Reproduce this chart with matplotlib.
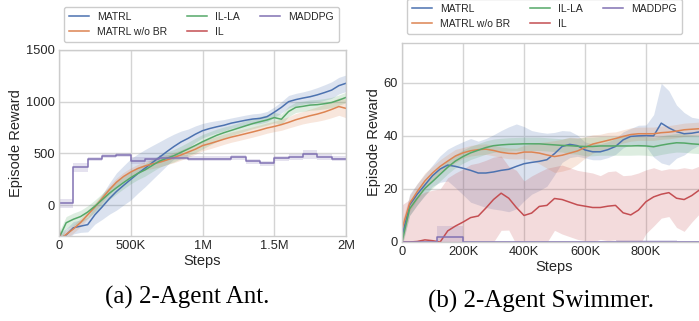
import matplotlib.pyplot as plt

plt.rcParams["font.family"] = ["Liberation Sans", "DejaVu Sans"]

# ---------------- 2-Agent Ant (steps in thousands) ----------------
ant_steps = [0, 50, 100, 150, 200, 250, 300, 350, 400, 450, 500, 550, 600, 650,
             700, 750, 800, 850, 900, 950, 1000, 1050, 1100, 1150, 1200, 1250,
             1300, 1350, 1400, 1450, 1500, 1550, 1600, 1650, 1700, 1750, 1800,
             1850, 1900, 1950, 2000]

ant_matrl = [-330, -290, -220, -205, -190, -95, -20, 60, 130, 190, 248, 305, 357,
             410, 462, 515, 565, 610, 645, 685, 719, 740, 757, 772, 792, 806, 820,
             832, 838, 855, 898, 945, 1000, 1020, 1035, 1048, 1066, 1088, 1112,
             1155, 1178]
ant_matrl_sd = [60, 60, 60, 60, 70, 90, 120, 150, 180, 190, 200, 190, 180, 165,
                150, 135, 120, 105, 90, 80, 70, 65, 60, 55, 50, 50, 50, 50, 50,
                50, 50, 55, 60, 60, 60, 65, 70, 75, 80, 80, 80]

ant_nobr = [-340, -285, -232, -170, -95, -20, 63, 146, 220, 276, 319, 354, 378,
            398, 413, 435, 459, 484, 512, 540, 575, 594, 615, 637, 657, 673, 690,
            707, 725, 745, 760, 778, 800, 825, 845, 864, 880, 900, 925, 953, 935]
ant_nobr_sd = [40, 40, 40, 40, 40, 40, 40, 40, 40, 40, 40, 40, 40, 45, 45, 45,
               50, 50, 50, 50, 50, 50, 50, 50, 50, 50, 50, 50, 50, 50, 50, 55,
               55, 60, 60, 65, 70, 75, 80, 85, 90]

ant_illa = [-320, -172, -138, -112, -68, -12, 50, 112, 166, 217, 265, 306, 340,
            383, 425, 452, 477, 510, 542, 576, 612, 644, 675, 700, 722, 744, 766,
            788, 806, 823, 846, 830, 905, 945, 955, 967, 971, 980, 992, 1015, 1041]
ant_illa_sd = [60, 60, 60, 60, 60, 60, 60, 60, 60, 60, 60, 60, 60, 60, 60, 60,
               60, 60, 65, 70, 70, 65, 60, 55, 50, 50, 50, 50, 50, 50, 50, 50,
               50, 50, 50, 50, 50, 50, 50, 50, 50]

ant_il = [-240, -700, -800, -800, -800, -800, -800, -800, -800, -800, -800, -800,
          -800, -800, -800, -800, -800, -800, -800, -800, -800, -800, -800, -800,
          -800, -800, -800, -800, -800, -800, -800, -800, -800, -800, -800, -800,
          -800, -800, -800, -800, -800]
ant_il_sd = [60] * len(ant_steps)

# MADDPG is drawn as a step curve
ant_maddpg_steps = [0, 100, 200, 300, 400, 500, 600, 700, 900, 1000, 1200, 1300,
                    1400, 1500, 1600, 1700, 1800, 1900, 2000]
ant_maddpg = [16, 365, 445, 474, 487, 429, 444, 457, 450, 447, 461, 425, 403,
              454, 464, 490, 467, 448, 448]
ant_maddpg_sd = [45, 45, 20, 20, 20, 35, 25, 25, 25, 25, 25, 25, 25, 25, 25,
                 40, 30, 25, 25]

# ---------------- 2-Agent Swimmer (steps in thousands) ----------------
swim_steps = [0, 25, 50, 75, 100, 125, 150, 175, 200, 225, 250, 275, 300, 325,
              350, 375, 400, 425, 450, 475, 500, 525, 550, 575, 600, 625, 650,
              675, 700, 725, 750, 775, 800, 825, 850, 875, 900, 925, 950, 975, 1000]

swim_matrl = [2, 14, 18, 21.5, 25, 27.5, 29, 28.5, 27.8, 27, 26, 26, 26.4, 27,
              27.4, 28.5, 29.5, 30, 30.4, 31, 33.3, 36, 36.8, 36.3, 34.7, 34, 34,
              34.8, 36, 38.5, 39.8, 40, 40.1, 40, 44.8, 43, 41.6, 40.8, 41, 41.5, 39]
swim_matrl_sd = [3, 4, 4, 4, 4, 5, 6, 8, 10, 12, 12, 13, 14, 15, 16, 16, 14, 12,
                 11, 10, 8, 6, 5, 4, 3, 3, 3, 3, 3, 3, 3, 4, 4, 8, 15, 14, 10, 8,
                 6, 5, 5]

swim_nobr = [5, 14.5, 19, 23, 26, 28.5, 30.5, 32.4, 33.6, 34.4, 34.8, 35, 34.5,
             33.8, 33.4, 33.3, 33.9, 33.9, 33.5, 32.8, 32.2, 32.7, 33.5, 34.3, 35.6,
             36.9, 37.6, 38.3, 39, 39.8, 40.5, 40.8, 40.8, 40.8, 41.2, 41.4, 41.8,
             42.3, 42.5, 42.7, 43]
swim_nobr_sd = [3, 3, 3, 3, 2.5, 2.5, 2.5, 2.5, 2, 2, 2, 2, 2, 2, 2, 2, 2.5, 3,
                4, 5, 6, 6, 6, 5, 4, 3.5, 3, 3, 2.5, 2.5, 2.5, 2.5, 2.5, 2.5, 2.5,
                2.5, 2.5, 2.5, 2.5, 2.5, 2.5]

swim_illa = [0, 12.5, 16.5, 20.2, 22.8, 25.5, 28.2, 30.5, 32.2, 33.6, 34.6, 35.6,
             36.3, 36.6, 36.8, 36.9, 37, 37, 37, 36.8, 36.6, 36.4, 36.3, 36.1, 36,
             36, 36.2, 36.2, 36.2, 36.2, 36.2, 36.3, 36.2, 35.9, 36.5, 37, 37.4,
             37.3, 37, 36.8, 37]
swim_illa_sd = [2, 2.5, 2.5, 2.5, 2.5, 2.5, 2.5, 2.5, 2.5, 2.5, 2.5, 2.5, 2.5,
                2.5, 2.5, 2.5, 2.5, 2.5, 2.5, 2.5, 2.5, 2.5, 3, 3, 3.5, 3.5, 3.5,
                3.5, 3.5, 3.5, 3.5, 3.5, 3.5, 3.5, 3.5, 3.5, 3.5, 3.5, 3.5, 3.5, 3.5]

swim_il = [0, 0, 0.2, 0.8, 0.5, 0, 4.2, 6, 7.5, 9.2, 9.8, 12.8, 16, 18.4, 16.5,
           13, 10, 10.9, 13.4, 13.8, 16.4, 16, 15, 14, 13.5, 13, 13, 13.5, 13.8,
           11, 10.2, 12, 15.2, 17, 18, 18.6, 16.5, 16, 17.5, 19.6, 21]
swim_il_sd = [14, 16, 17, 18, 19, 20, 20, 20, 20, 20, 20, 18, 16, 14, 12, 14,
              13, 14, 13, 14, 12, 13, 13, 13, 13, 13, 12, 13, 13, 14, 15, 14, 12,
              11, 9, 9, 11, 12, 10, 9, 9]

swim_maddpg_steps = [0, 115, 200, 700, 900, 1000]
swim_maddpg = [0, 2, 0, 0, 0, 0]
swim_maddpg_sd = [0.2, 4, 0.3, 0.8, 0.3, 0.3]

labels = ["MATRL", "MATRL w/o BR", "IL-LA", "IL", "MADDPG"]
colors = ["#4c72b0", "#dd8452", "#55a868", "#c44e52", "#8172b3"]


def draw_band(ax, x, y, sd, color, label, step=False):
    lo = [a - b for a, b in zip(y, sd)]
    hi = [a + b for a, b in zip(y, sd)]
    if step:
        ax.fill_between(x, lo, hi, color=color, alpha=0.2, lw=0, step="post")
        ax.plot(x, y, color=color, lw=1.1, label=label, drawstyle="steps-post")
    else:
        ax.fill_between(x, lo, hi, color=color, alpha=0.2, lw=0)
        ax.plot(x, y, color=color, lw=1.1, label=label)


def style_axes(ax):
    ax.set_facecolor("white")
    ax.grid(True, color="#d4d4d4", lw=1.0)
    ax.set_axisbelow(True)
    for s in ax.spines.values():
        s.set_color("#cccccc")
        s.set_linewidth(1.0)
    ax.tick_params(length=0, pad=3, labelsize=9.3, labelcolor="#262626")
    ax.set_xlabel("Steps", fontsize=10.5, color="#262626", labelpad=1)
    ax.set_ylabel("Episode Reward", fontsize=10.5, color="#262626", labelpad=2)


fig = plt.figure(figsize=(6.99, 3.21), dpi=100)
ax1 = fig.add_axes([59 / 699, 85 / 321, 287 / 699, 186 / 321])
ax2 = fig.add_axes([402 / 699, 79 / 321, 305 / 699, 199 / 321])

# Ant
draw_band(ax1, ant_steps, ant_matrl, ant_matrl_sd, colors[0], labels[0])
draw_band(ax1, ant_steps, ant_nobr, ant_nobr_sd, colors[1], labels[1])
draw_band(ax1, ant_steps, ant_illa, ant_illa_sd, colors[2], labels[2])
draw_band(ax1, ant_steps, ant_il, ant_il_sd, colors[3], labels[3])
draw_band(ax1, ant_maddpg_steps, ant_maddpg, ant_maddpg_sd, colors[4], labels[4], step=True)
ax1.set_xlim(0, 2000)
ax1.set_ylim(-300, 1500)
ax1.set_xticks([0, 500, 1000, 1500, 2000])
ax1.set_xticklabels(["0", "500K", "1M", "1.5M", "2M"])
ax1.set_yticks([0, 500, 1000, 1500])
style_axes(ax1)

# Swimmer (the panel runs past the right edge of the picture)
draw_band(ax2, swim_steps, swim_matrl, swim_matrl_sd, colors[0], labels[0])
draw_band(ax2, swim_steps, swim_nobr, swim_nobr_sd, colors[1], labels[1])
draw_band(ax2, swim_steps, swim_illa, swim_illa_sd, colors[2], labels[2])
draw_band(ax2, swim_steps, swim_il, swim_il_sd, colors[3], labels[3])
draw_band(ax2, swim_maddpg_steps, swim_maddpg, swim_maddpg_sd, colors[4], labels[4], step=True)
ax2.set_xlim(0, 1000)
ax2.set_ylim(0, 75)
ax2.set_xticks([0, 200, 400, 600, 800])
ax2.set_xticklabels(["0", "200K", "400K", "600K", "800K"])
ax2.set_yticks([0, 20, 40, 60])
style_axes(ax2)

leg_kw = dict(ncol=3, fontsize=7.5, loc="lower left", borderaxespad=0,
              bbox_transform=fig.transFigure, handlelength=1.9, handletextpad=0.8,
              columnspacing=1.9, labelspacing=0.45, borderpad=0.5, framealpha=1,
              edgecolor="#cccccc", labelcolor="#262626")
ax1.legend(bbox_to_anchor=(64 / 699, (321 - 42) / 321), **leg_kw)
ax2.legend(bbox_to_anchor=(407 / 699, (321 - 34) / 321), **leg_kw)

# captions
fig.text(187 / 699, 1 - 297 / 321, "(a) 2-Agent Ant.", ha="center", va="center",
         fontsize=18, family="Liberation Serif")
fig.text(541 / 699, 1 - 301 / 321, "(b) 2-Agent Swimmer.", ha="center", va="center",
         fontsize=18, family="Liberation Serif")

fig.savefig("out.png", dpi=100)
